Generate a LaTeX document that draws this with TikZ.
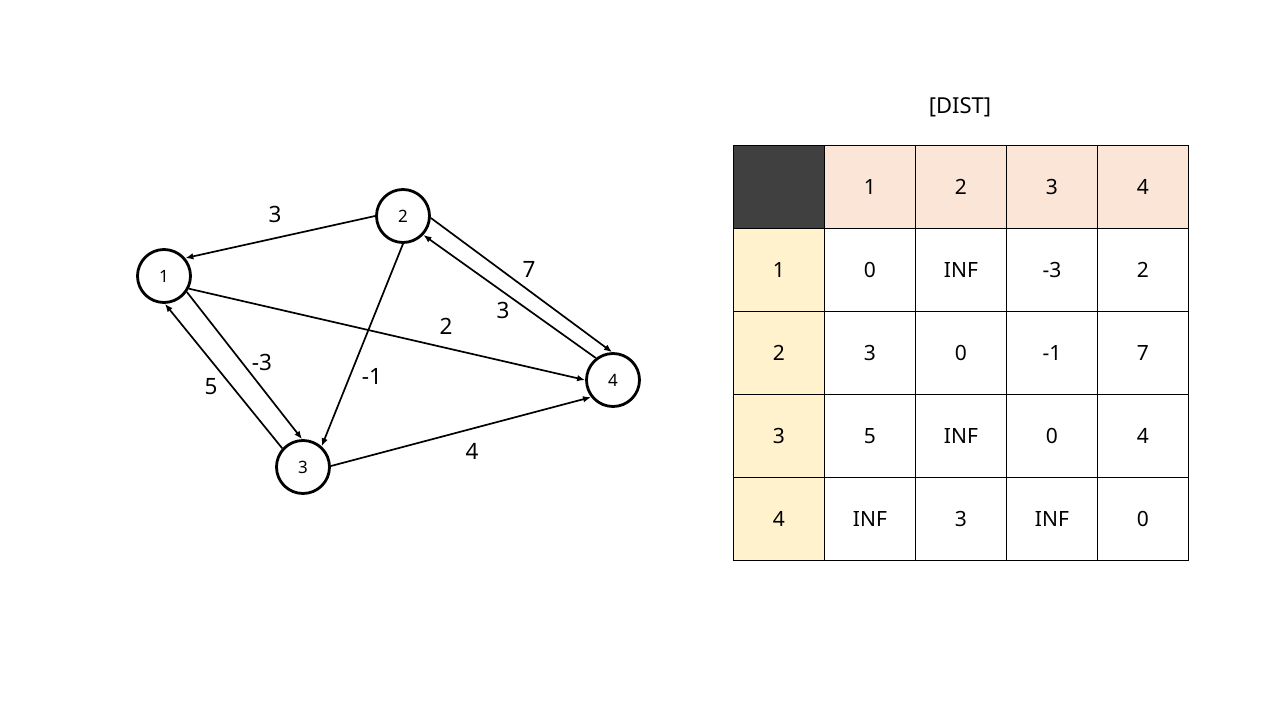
\documentclass[tikz,border=0pt]{standalone}
\usepackage{fontspec}
\setmainfont{Noto Sans}
\usetikzlibrary{arrows.meta}
\definecolor{darkcell}{HTML}{404040}
\definecolor{peach}{HTML}{FBE5D6}
\definecolor{cream}{HTML}{FFF2CC}
\begin{document}
\begin{tikzpicture}[x=1pt,y=-1pt,
  vert/.style={circle,draw,line width=2.8pt,minimum size=53pt,inner sep=0pt,font=\fontsize{17}{17}\selectfont},
  edge/.style={line width=1.7pt,-{Latex[length=8pt,width=6.5pt]}},
  wlab/.style={font=\fontsize{22.5}{22.5}\selectfont},
  cell/.style={draw,line width=0.9pt,minimum width=91pt,minimum height=83pt,inner sep=0pt,anchor=north west,font=\fontsize{21}{21}\selectfont}]
\useasboundingbox (0,0) rectangle (1280,720);
\fill[white] (0,0) rectangle (1280,720);
% vertices
\node[vert] (n1) at (164,276) {1};
\node[vert] (n2) at (403,216) {2};
\node[vert] (n3) at (303,467) {3};
\node[vert] (n4) at (613,380) {4};
% edges
\draw[edge] (n2.180) -- (n1.40);
\draw[edge] (n1.-27) -- (n4.180);
\draw[edge] (n2.-90) -- (n3.48);
\draw[edge] (n1.-35) -- (n3.92);
\draw[edge] (n3.138) -- (n1.-88);
\draw[edge] (n2.-4) -- (n4.92);
\draw[edge] (n4.128) -- (n2.-43);
\draw[edge] (n3.2) -- (n4.218);
% weights
\node[wlab] (w21) at (275,214) {3};
\node[wlab] (w14) at (446,326) {2};
\node[wlab] (w23) at (372,376) {-1};
\node[wlab] (w13) at (262,362) {-3};
\node[wlab] (w31) at (211,387) {5};
\node[wlab] (w24) at (529,269) {7};
\node[wlab] (w42) at (503,310) {3};
\node[wlab] (w34) at (472,451) {4};
% table
\node[font=\fontsize{22}{22}\selectfont] (title) at (960,107) {[DIST]};
\node[cell,fill=darkcell] (c00) at (733,145) {};
\node[cell,fill=peach] (c01) at (824,145) {1};
\node[cell,fill=peach] (c02) at (915,145) {2};
\node[cell,fill=peach] (c03) at (1006,145) {3};
\node[cell,fill=peach] (c04) at (1097,145) {4};
\node[cell,fill=cream] (c10) at (733,228) {1};
\node[cell] (c11) at (824,228) {0};
\node[cell] (c12) at (915,228) {INF};
\node[cell] (c13) at (1006,228) {-3};
\node[cell] (c14) at (1097,228) {2};
\node[cell,fill=cream] (c20) at (733,311) {2};
\node[cell] (c21) at (824,311) {3};
\node[cell] (c22) at (915,311) {0};
\node[cell] (c23) at (1006,311) {-1};
\node[cell] (c24) at (1097,311) {7};
\node[cell,fill=cream] (c30) at (733,394) {3};
\node[cell] (c31) at (824,394) {5};
\node[cell] (c32) at (915,394) {INF};
\node[cell] (c33) at (1006,394) {0};
\node[cell] (c34) at (1097,394) {4};
\node[cell,fill=cream] (c40) at (733,477) {4};
\node[cell] (c41) at (824,477) {INF};
\node[cell] (c42) at (915,477) {3};
\node[cell] (c43) at (1006,477) {INF};
\node[cell] (c44) at (1097,477) {0};
\end{tikzpicture}
\end{document}
